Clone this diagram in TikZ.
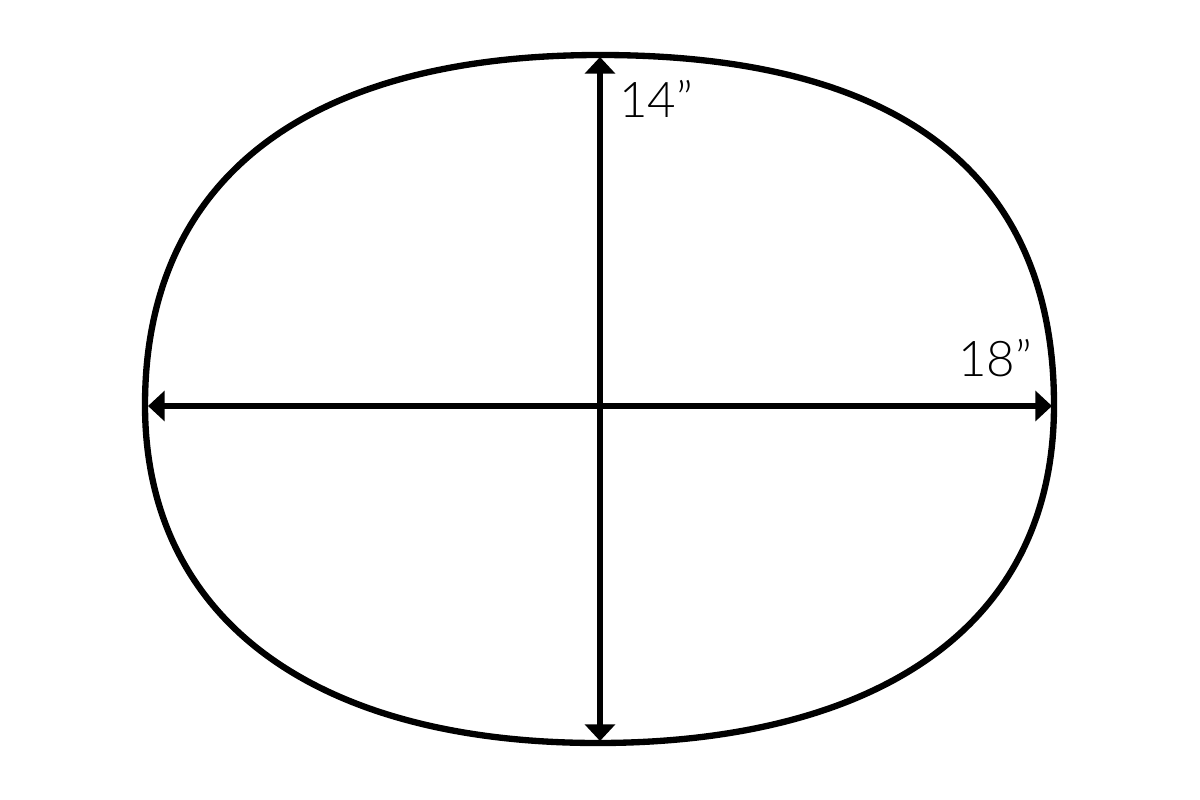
\documentclass[tikz,border=0pt]{standalone}
\usepackage{fontspec}
\setmainfont{Lato Light}
\usetikzlibrary{arrows.meta}
\begin{document}
\begin{tikzpicture}[x=0.02cm,y=-0.02cm,
  outline/.style={line width=3.6pt,line join=round},
  dimline/.style={line width=3.6pt,{Triangle[length=9.5pt,width=17pt]}-{Triangle[length=9.5pt,width=17pt]}},
  dimlabel/.style={inner sep=0pt,anchor=base west,font=\fontsize{28}{32}\selectfont}]
\useasboundingbox[fill=white] (0,0) rectangle (1200,800);
% outline
\draw[outline] (600,55) .. controls (900,55) and (1054,174) .. (1054,405)
  .. controls (1054,645) and (850,743) .. (598,743)
  .. controls (313,743) and (145,618) .. (145,405)
  .. controls (145,180) and (305,55) .. (600,55) -- cycle;
% dimension end points
\coordinate (top) at (600,57);
\coordinate (bot) at (600,741);
\coordinate (lft) at (148,406);
\coordinate (rgt) at (1052,406);
\draw[dimline] (top) -- (bot);
\draw[dimline] (lft) -- (rgt);
\node[dimlabel] (h) at (619,118) {14”};
\node[dimlabel] (w) at (958,377) {18”};
\end{tikzpicture}
\end{document}
